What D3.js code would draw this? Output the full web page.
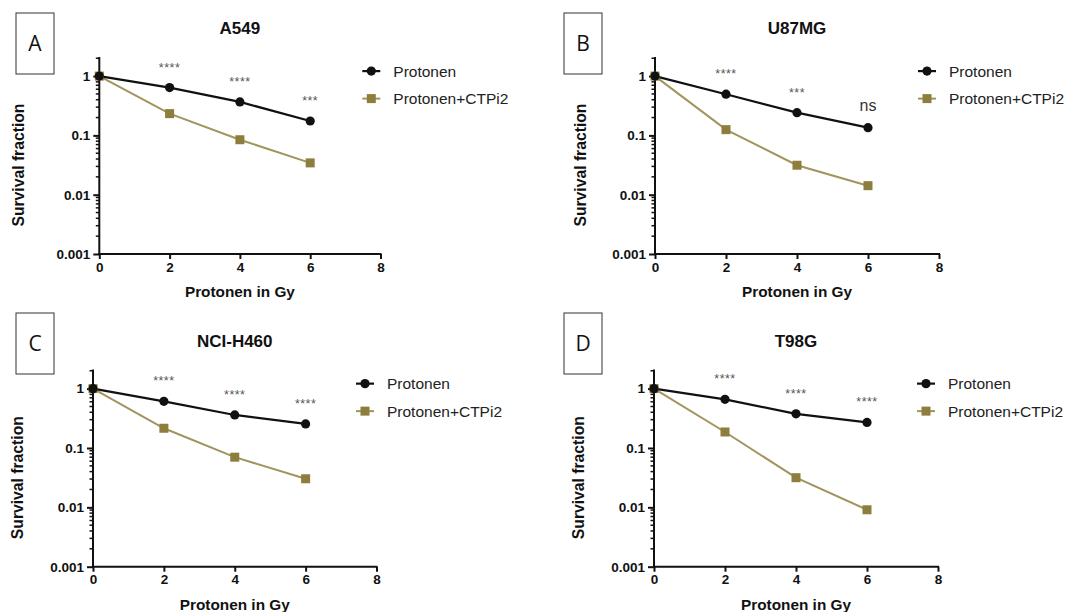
<!DOCTYPE html>
<html>
<head>
<meta charset="utf-8">
<script src="https://cdn.jsdelivr.net/npm/d3@7"></script>
<style>
  html, body { margin: 0; padding: 0; background: #fff; }
  svg { display: block; }
</style>
</head>
<body>
<svg id="chart" width="1090" height="612"></svg>
<script>
// ---------- data ----------
const doses = [0, 2, 4, 6];
const xTicks = [0, 2, 4, 6, 8];
const yTicks = [0.001, 0.01, 0.1, 1];
const yTickLabels = ["0.001", "0.01", "0.1", "1"];
const panelLetters = ["A", "B", "C", "D"];
const cellLines = ["A549", "U87MG", "NCI-H460", "T98G"];
const seriesNames = ["Protonen", "Protonen+CTPi2"];
const protonen = [
  [1, 0.64, 0.367, 0.175],
  [1, 0.495, 0.242, 0.135],
  [1, 0.61, 0.36, 0.254],
  [1, 0.66, 0.376, 0.27]
];
const protonenCTPi2 = [
  [1, 0.233, 0.0845, 0.0344],
  [1, 0.125, 0.0314, 0.0142],
  [1, 0.215, 0.070, 0.0303],
  [1, 0.186, 0.0316, 0.0091]
];
const significance = [
  ["****", "****", "***"],
  ["****", "***", "ns"],
  ["****", "****", "****"],
  ["****", "****", "****"]
];
const xTitle = "Protonen in Gy";
const yTitle = "Survival fraction";

// ---------- layout ----------
const layout = [
  { left: 99.3, right: 380.5, bottom: 254, top: 57, box: [16, 13], yTitleX: 18 },
  { left: 655, right: 939, bottom: 254, top: 57, box: [564, 13], yTitleX: 580 },
  { left: 93, right: 376.5, bottom: 566.7, top: 369.5, box: [16, 313], yTitleX: 17 },
  { left: 654, right: 938, bottom: 566.7, top: 369.5, box: [564, 313], yTitleX: 578 }
];
const BLACK = "#111";
const OLIVE_LINE = "#a2945e";
const OLIVE_MARK = "#8d7e3d";
const FONT = "'Liberation Sans', Arial, sans-serif";

const svg = d3.select("#chart");

layout.forEach((L, i) => {
  const g = svg.append("g");
  const x = d3.scaleLinear().domain([0, 8]).range([L.left, L.right]);
  const y = d3.scaleLog().domain([0.001, 2.1]).range([L.bottom, L.top]);

  // panel letter box
  g.append("rect").attr("x", L.box[0]).attr("y", L.box[1]).attr("width", 38).attr("height", 61)
    .attr("fill", "#fff").attr("stroke", "#333").attr("stroke-width", 1);
  g.append("text").attr("x", L.box[0] + 19).attr("y", L.box[1] + 38)
    .attr("text-anchor", "middle").attr("font-family", "'Open Sans', " + FONT).attr("font-size", 21)
    .attr("fill", "#111").text(panelLetters[i]);

  // title
  g.append("text").attr("x", (L.left + L.right) / 2).attr("y", L.top - 23)
    .attr("text-anchor", "middle").attr("font-family", FONT).attr("font-weight", "bold")
    .attr("font-size", 17).attr("fill", "#111").text(cellLines[i]);

  // y axis minor ticks
  const minor = [];
  [0.001, 0.01, 0.1, 1].forEach(d => { for (let k = 2; k <= 9; k++) { const v = d * k; if (v <= 2.1) minor.push(v); } });
  g.append("g").selectAll("line").data(minor).join("line")
    .attr("x1", L.left - 3.5).attr("x2", L.left)
    .attr("y1", d => y(d)).attr("y2", d => y(d))
    .attr("stroke", BLACK).attr("stroke-width", 1.5);

  // y axis
  const yAxis = d3.axisLeft(y).tickValues(yTicks).tickFormat((d, j) => yTickLabels[j])
    .tickSizeInner(6).tickSizeOuter(0).tickPadding(3);
  const ya = g.append("g").attr("transform", `translate(${L.left},0)`).call(yAxis);
  ya.select(".domain").attr("stroke", BLACK).attr("stroke-width", 2)
    .attr("d", `M0,${L.top}V${L.bottom}`);
  ya.selectAll(".tick line").attr("stroke", BLACK).attr("stroke-width", 2);
  ya.selectAll(".tick text").attr("font-family", FONT).attr("font-weight", "bold")
    .attr("font-size", 13.5).attr("fill", "#111");

  // x axis
  const xAxis = d3.axisBottom(x).tickValues(xTicks).tickFormat(d3.format("d"))
    .tickSizeInner(5).tickSizeOuter(0).tickPadding(3);
  const xa = g.append("g").attr("transform", `translate(0,${L.bottom})`).call(xAxis);
  xa.select(".domain").attr("stroke", BLACK).attr("stroke-width", 2)
    .attr("d", `M${L.left - 1},0H${L.right + 1}`);
  xa.selectAll(".tick line").attr("stroke", BLACK).attr("stroke-width", 2);
  xa.selectAll(".tick text").attr("font-family", FONT).attr("font-weight", "bold")
    .attr("font-size", 13.5).attr("fill", "#111");

  // axis titles
  g.append("text").attr("x", (L.left + L.right) / 2).attr("y", L.bottom + 43)
    .attr("text-anchor", "middle").attr("font-family", FONT).attr("font-weight", "bold")
    .attr("font-size", 15.5).attr("fill", "#111")
    .attr("textLength", 110).attr("lengthAdjust", "spacingAndGlyphs").text(xTitle);
  const ymid = (y(1) + y(0.001)) / 2;
  g.append("text").attr("transform", `translate(${L.yTitleX + 6},${ymid}) rotate(-90)`)
    .attr("text-anchor", "middle").attr("font-family", FONT).attr("font-weight", "bold")
    .attr("font-size", 16).attr("fill", "#111")
    .attr("textLength", 123).attr("lengthAdjust", "spacingAndGlyphs").text(yTitle);

  // series
  const line = d3.line().x((d, j) => x(doses[j])).y(d => y(d));
  g.append("path").datum(protonenCTPi2[i]).attr("d", line)
    .attr("fill", "none").attr("stroke", OLIVE_LINE).attr("stroke-width", 2);
  g.append("path").datum(protonen[i]).attr("d", line)
    .attr("fill", "none").attr("stroke", BLACK).attr("stroke-width", 2.2);
  g.append("g").selectAll("rect").data(protonenCTPi2[i]).join("rect")
    .attr("x", (d, j) => x(doses[j]) - 4.5).attr("y", d => y(d) - 4.5)
    .attr("width", 9).attr("height", 9).attr("fill", OLIVE_MARK);
  g.append("g").selectAll("circle").data(protonen[i]).join("circle")
    .attr("cx", (d, j) => x(doses[j])).attr("cy", d => y(d)).attr("r", 4.6)
    .attr("fill", BLACK);

  // significance annotations
  g.append("g").selectAll("text").data(significance[i]).join("text")
    .attr("x", (d, j) => x(doses[j + 1]))
    .attr("y", (d, j) => y(protonen[i][j + 1]) - 22 + (d === "ns" ? 5 : 6))
    .attr("text-anchor", "middle").attr("font-family", FONT)
    .attr("font-size", d => d === "ns" ? 16 : 12.5)
    .attr("fill", d => d === "ns" ? "#333" : "#555")
    .attr("letter-spacing", d => d === "ns" ? 0 : 0.5)
    .text(d => d);

  // legend
  const lx = L.left + 263;
  const ly0 = y(1) - 5, ly1 = y(1) + 22.5;
  g.append("line").attr("x1", lx).attr("x2", lx + 18).attr("y1", ly0).attr("y2", ly0)
    .attr("stroke", BLACK).attr("stroke-width", 2.2);
  g.append("circle").attr("cx", lx + 9).attr("cy", ly0).attr("r", 4.6).attr("fill", BLACK);
  g.append("text").attr("x", lx + 31).attr("y", ly0 + 5.5).attr("font-family", FONT)
    .attr("font-size", 15.5).attr("fill", "#222").text(seriesNames[0]);
  g.append("line").attr("x1", lx).attr("x2", lx + 18).attr("y1", ly1).attr("y2", ly1)
    .attr("stroke", OLIVE_LINE).attr("stroke-width", 2);
  g.append("rect").attr("x", lx + 4.5).attr("y", ly1 - 4.5).attr("width", 9).attr("height", 9)
    .attr("fill", OLIVE_MARK);
  g.append("text").attr("x", lx + 31).attr("y", ly1 + 5.5).attr("font-family", FONT)
    .attr("font-size", 15.5).attr("fill", "#222").text(seriesNames[1]);
});
</script>
</body>
</html>
